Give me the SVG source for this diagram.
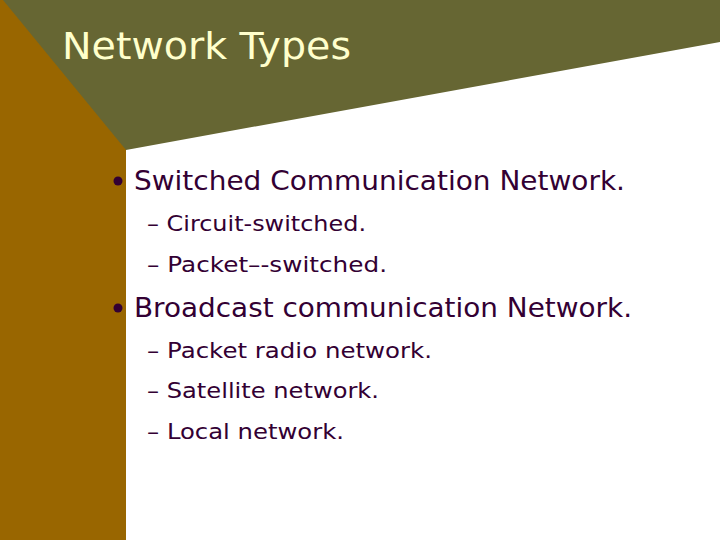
<svg xmlns="http://www.w3.org/2000/svg" width="720" height="540" viewBox="0 0 720 540">
<style>
text{font-family:"DejaVu Sans","Liberation Sans",sans-serif;fill:#330033}
.l1{font-size:27px}
.l2{font-size:22px}
</style>
<rect width="720" height="540" fill="#fff"/>
<rect x="0" y="0" width="126" height="540" fill="#996600"/>
<polygon points="3,0 720,0 720,42 126,150" fill="#666633"/>
<text x="62" y="59" style="font-size:38px;fill:#FFFFCC" textLength="289" lengthAdjust="spacingAndGlyphs">Network Types</text>
<g id="b1">
<circle cx="118" cy="181" r="4.5" fill="#330033"/>
<text class="l1" x="134" y="190" textLength="491" lengthAdjust="spacingAndGlyphs">Switched Communication Network.</text>
</g>
<text class="l2" x="147" y="231" textLength="219" lengthAdjust="spacingAndGlyphs">– Circuit-switched.</text>
<text class="l2" x="147" y="272" textLength="240" lengthAdjust="spacingAndGlyphs">– Packet–-switched.</text>
<g id="b2">
<circle cx="118" cy="308" r="4.5" fill="#330033"/>
<text class="l1" x="134" y="317" textLength="498" lengthAdjust="spacingAndGlyphs">Broadcast communication Network.</text>
</g>
<text class="l2" x="147" y="358" textLength="285" lengthAdjust="spacingAndGlyphs">– Packet radio network.</text>
<text class="l2" x="147" y="398" textLength="232" lengthAdjust="spacingAndGlyphs">– Satellite network.</text>
<text class="l2" x="147" y="439" textLength="197" lengthAdjust="spacingAndGlyphs">– Local network.</text>
</svg>
